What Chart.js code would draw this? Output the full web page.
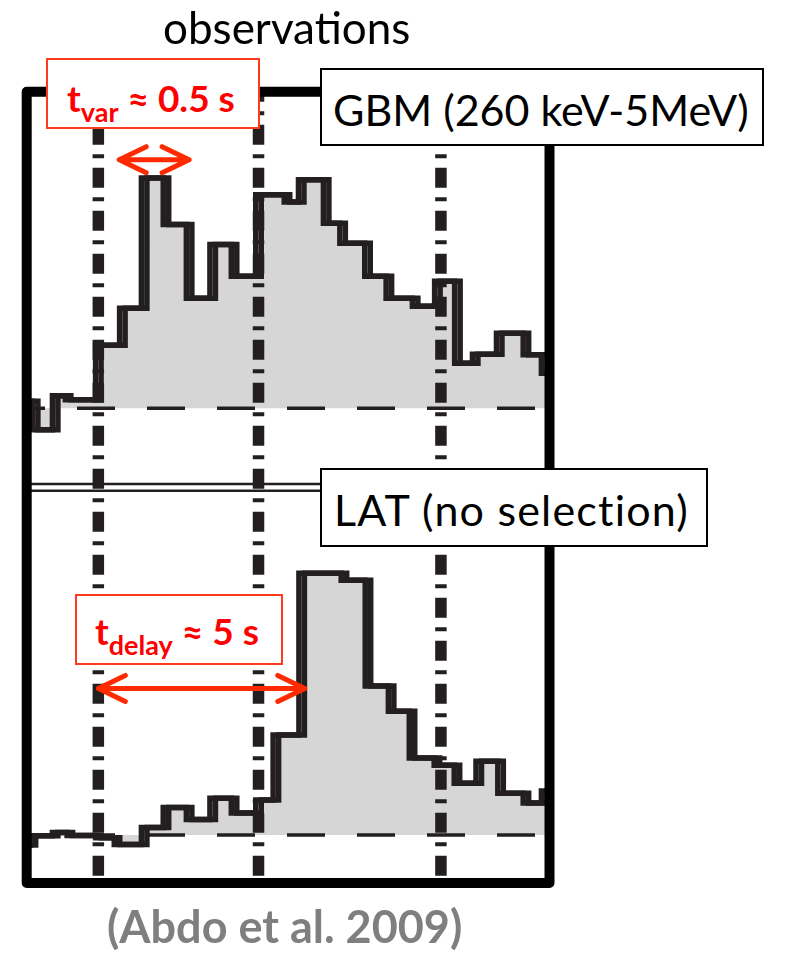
<!DOCTYPE html>
<html>
<head>
<meta charset="utf-8">
<script src="https://cdn.jsdelivr.net/npm/chart.js@4.4.1/dist/chart.umd.min.js"></script>
<style>
  body { margin: 0; background: #fff; }
  #wrap { position: relative; width: 785px; height: 957px; font-family: Lato, "Open Sans", sans-serif; }
  #wrap canvas { position: absolute; left: 0; top: 0; }
  .lbl { position: absolute; white-space: nowrap; line-height: 1; }
  .box { position: absolute; box-sizing: border-box; background: #fff; }
  .red { color: #ff0000; font-weight: 700; font-size: 37px; }
  .red .sub { font-size: 27px; vertical-align: -10px; }
</style>
</head>
<body>
<div id="wrap">
  <canvas id="lc" width="785" height="957"></canvas>

  <div class="lbl" style="left:163px; top:5px; font-size:44px;">observations</div>

  <div class="box" style="left:46px; top:58px; width:214px; height:71px; border:2px solid #ff3b1f;"></div>
  <div class="lbl red" style="left:67px; top:79px;">t<span class="sub">var</span> ≈ 0.5 s</div>

  <div class="box" style="left:320px; top:68px; width:444px; height:78px; border:2px solid #000;"></div>
  <div class="lbl" style="left:333px; top:88px; font-size:43px;">GBM (260 keV-5MeV)</div>

  <div class="box" style="left:320px; top:468px; width:388px; height:79px; border:2px solid #000;"></div>
  <div class="lbl" style="left:334px; top:488px; font-size:43px; letter-spacing:1.2px;">LAT (no selection)</div>

  <div class="box" style="left:75px; top:594px; width:208px; height:71px; border:2px solid #ff3b1f;"></div>
  <div class="lbl red" style="left:95px; top:612px;">t<span class="sub">delay</span> ≈ 5 s</div>

  <div class="lbl" style="left:107px; top:904px; font-size:45px; font-weight:700; color:#7f7f7f;">(Abdo et al. 2009)</div>
</div>

<script>
// time since trigger (s) shown across the frame
var xMin = -1.61, xMax = 10.14;

// GBM 260 keV - 5 MeV: bin edges (s) and background-subtracted rate
var gbmEdges = [-1.70, -1.42, -0.97, -0.68, 0.00, 0.54, 1.03, 1.52, 2.04, 2.57, 3.05, 3.60, 4.24,
                4.56, 5.12, 5.49, 6.05, 6.53, 7.12, 7.62, 8.07, 8.47, 9.01, 9.61, 10.02, 10.30];
var gbmRate = [3.0, -9.3, 5.4, 3.7, 27.4, 43.5, 100, 79.8, 47.8, 71.1, 57.4, 92.8, 89.6,
               99.3, 80.4, 71.7, 57.4, 47.8, 44.3, 55.2, 19.6, 23.5, 32.6, 23.3, 15.2];

// LAT, no event selection
var latEdges = [-1.70, -1.47, -0.97, -0.64, 0.00, 0.42, 1.03, 1.52, 2.04, 2.57, 3.05, 3.60, 3.99,
                4.57, 5.52, 6.06, 6.58, 7.05, 7.61, 8.06, 8.55, 9.04, 9.61, 10.02, 10.30];
var latRate = [-3.8, -0.3, 1.0, -0.2, -1.0, -3.6, 2.9, 10.5, 5.9, 14.1, 8.4, 13.4,
               38.2, 100, 97.3, 56.9, 47.3, 29.4, 26.7, 19.8, 28.2, 16.0, 12.2, 16.8];

// time-interval boundaries (dash-dot lines)
var intervalEdges = [0, 3.6, 7.7];

// arrows: [t from, t to, level on the panel's axis]
var tvarArrow = [0.47, 2.04, 108];
var tdelayArrow = [0.0, 4.64, 56];

var ink = '#231f20';

function steps(edges, rate) {
  var pts = rate.map(function (v, i) { return {x: edges[i], y: v}; });
  pts.push({x: edges[edges.length - 1], y: rate[rate.length - 1]});
  return pts;
}

// one panel = gray fill, dashed zero line, and a wide pen made of two shifted strokes
function panelSets(edges, rate, axis) {
  var pts = steps(edges, rate);
  return [
    {data: pts.slice(), yAxisID: axis, stepped: true, borderColor: ink, borderWidth: 5.5,
     penShift: -2.75, pointRadius: 0, fill: false, order: 0},
    {data: pts.slice(), yAxisID: axis, stepped: true, borderColor: ink, borderWidth: 5.5,
     penShift: 2.75, pointRadius: 0, fill: false, order: 1},
    {data: [{x: xMin, y: 0}, {x: xMax, y: 0}], yAxisID: axis, borderColor: ink, borderWidth: 3.5,
     borderDash: [38, 32], borderDashOffset: 19.7, pointRadius: 0, fill: false, order: 2},
    {data: pts.slice(), yAxisID: axis, stepped: true, borderColor: 'rgba(0,0,0,0)', borderWidth: 0,
     backgroundColor: '#d6d6d6', fill: 'origin', pointRadius: 0, order: 3}
  ];
}

function drawArrow(ctx, x0, x1, y) {
  ctx.beginPath();
  ctx.moveTo(x0, y); ctx.lineTo(x1, y);
  ctx.moveTo(x0 + 27, y - 13); ctx.lineTo(x0, y); ctx.lineTo(x0 + 27, y + 13);
  ctx.moveTo(x1 - 27, y - 13); ctx.lineTo(x1, y); ctx.lineTo(x1 - 27, y + 13);
  ctx.stroke();
}

var penShift = {
  id: 'penShift',
  beforeDatasetDraw: function (chart, args) {
    var ds = chart.data.datasets[args.index];
    if (ds.penShift) { chart.ctx.save(); chart.ctx.translate(ds.penShift, 0); }
  },
  afterDatasetDraw: function (chart, args) {
    if (chart.data.datasets[args.index].penShift) chart.ctx.restore();
  }
};

var decor = {
  id: 'decor',
  afterDatasetsDraw: function (chart) {
    var ctx = chart.ctx, a = chart.chartArea, sx = chart.scales.x;
    var yG = chart.scales.yGbm, yL = chart.scales.yLat;
    ctx.save();

    // double rule between the two panels
    var ySep = Math.min(yG.bottom, yL.bottom);
    ctx.strokeStyle = ink;
    ctx.lineWidth = 2.5;
    [-3.3, 3.3].forEach(function (d) {
      ctx.beginPath(); ctx.moveTo(a.left, ySep + d); ctx.lineTo(a.right, ySep + d); ctx.stroke();
    });

    // dash-dot interval lines through both panels
    ctx.lineWidth = 11.5;
    ctx.setLineDash([20, 9.5, 4, 9.5]);
    ctx.lineDashOffset = 10;
    intervalEdges.forEach(function (t) {
      var px = sx.getPixelForValue(t);
      ctx.beginPath(); ctx.moveTo(px, a.top); ctx.lineTo(px, a.bottom); ctx.stroke();
    });
    ctx.setLineDash([]);

    // heavy frame
    ctx.strokeStyle = '#000';
    ctx.lineWidth = 10;
    ctx.lineJoin = 'round';
    ctx.strokeRect(a.left, a.top, a.right - a.left, a.bottom - a.top);

    // red arrows
    ctx.strokeStyle = '#ff2a00';
    ctx.lineWidth = 5;
    ctx.lineCap = 'round';
    drawArrow(ctx, sx.getPixelForValue(tvarArrow[0]), sx.getPixelForValue(tvarArrow[1]),
              yG.getPixelForValue(tvarArrow[2]));
    drawArrow(ctx, sx.getPixelForValue(tdelayArrow[0]), sx.getPixelForValue(tdelayArrow[1]),
              yL.getPixelForValue(tdelayArrow[2]));
    ctx.restore();
  }
};

document.addEventListener('DOMContentLoaded', function () {
  var ctx = document.getElementById('lc').getContext('2d');
  new Chart(ctx, {
    type: 'line',
    data: {
      datasets: panelSets(gbmEdges, gbmRate, 'yGbm').concat(panelSets(latEdges, latRate, 'yLat'))
    },
    options: {
      responsive: false,
      animation: false,
      devicePixelRatio: 1,
      layout: { padding: { left: 26.7, right: 235.5, top: 91.7, bottom: 74 } },
      scales: {
        x: { type: 'linear', min: xMin, max: xMax, display: false },
        // stacked left axes are laid out bottom-first, so the lower panel comes first
        yLat: { type: 'linear', position: 'left', stack: 'panels', stackWeight: 1,
                min: -18.32, max: 132.82, display: false },
        yGbm: { type: 'linear', position: 'left', stack: 'panels', stackWeight: 1,
                min: -34.35, max: 137.52, display: false }
      },
      plugins: {
        legend: { display: false },
        tooltip: { enabled: false }
      }
    },
    plugins: [penShift, decor]
  });
});
</script>
</body>
</html>
